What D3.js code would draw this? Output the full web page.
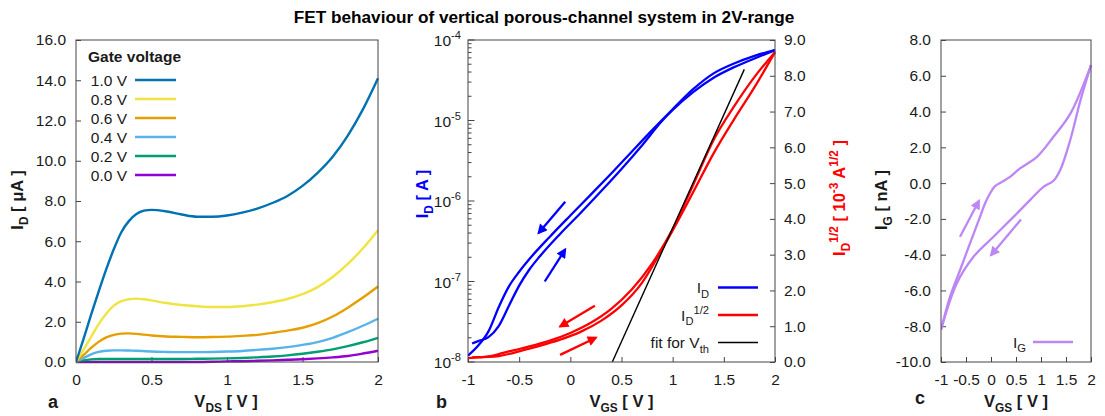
<!DOCTYPE html>
<html>
<head>
<meta charset="utf-8">
<script src="https://cdn.jsdelivr.net/npm/d3@7"></script>
<style>
  html, body { margin: 0; padding: 0; background: #fff; }
  svg { display: block; font-family: "Liberation Sans", Arial, Helvetica, sans-serif; }
</style>
</head>
<body>
<script>
// ---------- panel a: output characteristics ----------
const vdsA = [0,0.05,0.1,0.15,0.2,0.25,0.3,0.35,0.4,0.45,0.5,0.6,0.7,0.8,0.9,1.0,1.1,1.2,1.3,1.4,1.5,1.6,1.7,1.8,1.9,2.0];
const gateLabels = ["1.0 V","0.8 V","0.6 V","0.4 V","0.2 V","0.0 V"];
const gateColors = ["#0072b2","#f0e442","#e69f00","#56b4e9","#009e73","#9400d3"];
const idVg10 = [0,1.15,2.35,3.5,4.6,5.6,6.45,7.0,7.35,7.52,7.56,7.48,7.33,7.22,7.22,7.28,7.42,7.62,7.9,8.25,8.75,9.4,10.2,11.25,12.55,14.1];
const idVg08 = [0,0.62,1.25,1.88,2.4,2.8,3.02,3.12,3.15,3.12,3.06,2.93,2.83,2.77,2.73,2.73,2.77,2.85,2.97,3.13,3.37,3.72,4.22,4.87,5.65,6.55];
const idVg06 = [0,0.35,0.7,1.0,1.22,1.35,1.41,1.42,1.4,1.36,1.32,1.27,1.25,1.23,1.24,1.26,1.3,1.35,1.45,1.56,1.7,1.93,2.26,2.7,3.2,3.75];
const idVg04 = [0,0.2,0.38,0.5,0.56,0.58,0.58,0.57,0.56,0.54,0.52,0.5,0.49,0.49,0.5,0.52,0.55,0.6,0.66,0.74,0.85,0.99,1.2,1.48,1.8,2.15];
const idVg02 = [0,0.08,0.13,0.15,0.15,0.15,0.15,0.15,0.15,0.15,0.15,0.15,0.15,0.16,0.17,0.18,0.2,0.23,0.27,0.33,0.41,0.51,0.63,0.79,0.98,1.2];
const idVg00 = [0,0,0,0,0,0,0,0,0,0,0,0,0,0,0.01,0.03,0.04,0.06,0.08,0.11,0.14,0.18,0.23,0.3,0.42,0.56];
const ticksA_x = [0,0.5,1,1.5,2];
const ticksA_y = [0,2,4,6,8,10,12,14,16];

// ---------- panel b: transfer characteristics ----------
// sweep from +2 V down to -1 V (upper branch) and back up (lower branch), I_D in A
const vgsDown = [-1.0,-0.9,-0.8,-0.7,-0.6,-0.5,-0.4,-0.2,0,0.2,0.4,0.6,0.8,1.0,1.2,1.4,1.6,1.8,2.0];
const idDown  = [1.2e-8,1.6e-8,2.4e-8,4.8e-8,8.7e-8,1.32e-7,1.9e-7,3.6e-7,6.6e-7,1.2e-6,2.2e-6,4.1e-6,7.6e-6,1.38e-5,2.45e-5,3.85e-5,5.1e-5,6.35e-5,7.5e-5];
const vgsUp   = [-0.96,-0.9,-0.8,-0.7,-0.6,-0.5,-0.4,-0.3,-0.1,0.1,0.3,0.5,0.7,0.9,1.0,1.2,1.4,1.6,1.8,2.0];
const idUp    = [1.7e-8,1.82e-8,2.04e-8,2.8e-8,5.0e-8,8.9e-8,1.41e-7,2.04e-7,3.9e-7,7.1e-7,1.32e-6,2.5e-6,4.9e-6,1.0e-5,1.35e-5,2.25e-5,3.4e-5,4.6e-5,5.9e-5,7.5e-5];
// linear fit of sqrt(I_D) used for the threshold voltage (units 1e-3 A^1/2)
const fitV = [0.41, 1.70];
const fitSqrt = [0, 8.18];
const ticksB_x = [-1,-0.5,0,0.5,1,1.5,2];
const ticksB_log = [1e-8,1e-7,1e-6,1e-5,1e-4];
const ticksB_exp = ["-8","-7","-6","-5","-4"];
const ticksB_right = [0,1,2,3,4,5,6,7,8,9];

// ---------- panel c: gate leakage ----------
const vgsGup = [-1.0,-0.82,-0.62,-0.42,-0.22,-0.12,-0.02,0.08,0.22,0.38,0.58,0.92,1.25,1.59,2.0];
const igUp   = [-8.2,-6.36,-4.87,-3.37,-1.89,-1.14,-0.58,-0.17,0.07,0.35,0.82,1.47,2.59,3.9,6.6];
const vgsGdown = [2.0,1.79,1.585,1.385,1.25,1.05,0.78,0.45,0.05,-0.35,-0.685,-1.0];
const igDown   = [6.6,4.64,2.41,0.73,0.13,-0.21,-0.95,-1.89,-3.0,-4.12,-5.61,-8.2];
const ticksC_x = [-1,-0.5,0,0.5,1,1.5,2];
const ticksC_y = [-10,-8,-6,-4,-2,0,2,4,6,8];

const W = 1105, H = 416;
const FRAME = "#444", TXT = "#1a1a1a";
const PURPLE = "#bd86f5";
const svg = d3.select("body").append("svg").attr("width", W).attr("height", H);

const defs = svg.append("defs");
function arrowMarker(id, color) {
  defs.append("marker").attr("id", id)
    .attr("viewBox", "0 0 10 10").attr("refX", 8).attr("refY", 5)
    .attr("markerWidth", 5).attr("markerHeight", 4.4).attr("orient", "auto")
    .attr("markerUnits", "strokeWidth")
    .append("path").attr("d", "M0,0 L10,5 L0,10 z").attr("fill", color);
}
arrowMarker("ah-blue", "#0000ff");
arrowMarker("ah-red", "#ff0000");
arrowMarker("ah-purple", PURPLE);

// text with sub/superscripts: parts = [[text, mode]], mode "", "sub" or "sup"
function rich(sel, parts, size) {
  let prev = 0;
  parts.forEach(([t, m]) => {
    const off = m === "sub" ? size * 0.32 : m === "sup" ? -size * 0.42 : 0;
    sel.append("tspan").attr("dy", off - prev)
      .attr("font-size", m ? size * 0.72 : size).text(t);
    prev = off;
  });
  return sel;
}

function frame(x, y) {
  svg.append("rect")
    .attr("x", x.range()[0]).attr("y", y.range()[1])
    .attr("width", x.range()[1] - x.range()[0])
    .attr("height", y.range()[0] - y.range()[1])
    .attr("fill", "none").attr("stroke", FRAME).attr("stroke-width", 1);
}

function clip(id, x, y) {
  defs.append("clipPath").attr("id", id).append("rect")
    .attr("x", x.range()[0]).attr("y", y.range()[1] - 2)
    .attr("width", x.range()[1] - x.range()[0] + 2)
    .attr("height", y.range()[0] - y.range()[1] + 4);
}

const fmtX = d => String(d);
const fmtY = d => d.toFixed(1);
const TICK_FS = 15.5;

// inward-pointing ticks on the bottom and left/right sides
function styleAxis(g) {
  g.select(".domain").remove();
  g.selectAll(".tick line").attr("stroke", FRAME);
  g.selectAll(".tick text").attr("font-size", TICK_FS).attr("fill", TXT)
    .attr("font-family", "Liberation Sans, Arial, sans-serif");
  return g;
}
function xAxis(x, y, ticks, fmt) {
  return styleAxis(svg.append("g").attr("transform", `translate(0,${y.range()[0]})`)
    .call(d3.axisBottom(x).tickValues(ticks).tickFormat(fmt).tickSizeInner(-5).tickSizeOuter(0).tickPadding(12)));
}
function yAxisLeft(x, y, ticks, fmt) {
  return styleAxis(svg.append("g").attr("transform", `translate(${x.range()[0]},0)`)
    .call(d3.axisLeft(y).tickValues(ticks).tickFormat(fmt).tickSizeInner(-5).tickSizeOuter(0).tickPadding(10)));
}

const BOLD = 16.5;
function xTitle(cx, y, parts) {
  rich(svg.append("text").attr("x", cx).attr("y", y).attr("text-anchor", "middle")
    .attr("font-weight", "bold").attr("fill", TXT), parts, BOLD);
}
function yTitle(x, cy, parts, color) {
  rich(svg.append("text").attr("transform", `translate(${x},${cy}) rotate(-90)`)
    .attr("text-anchor", "middle").attr("font-weight", "bold").attr("fill", color || TXT), parts, BOLD);
}
function panelLetter(x, y, t) {
  svg.append("text").attr("x", x).attr("y", y).attr("font-weight", "bold")
    .attr("font-size", 18).attr("fill", TXT).text(t);
}

// ---------- title ----------
svg.append("text").attr("x", 544).attr("y", 23).attr("text-anchor", "middle")
  .attr("font-weight", "bold").attr("font-size", 17.2).attr("fill", "#000")
  .text("FET behaviour of vertical porous-channel system in 2V-range");

// ================= panel a =================
const xA = d3.scaleLinear().domain([0, 2]).range([76, 378]);
const yA = d3.scaleLinear().domain([0, 16]).range([362, 40]);
clip("clipA", xA, yA);
xAxis(xA, yA, ticksA_x, fmtX);
yAxisLeft(xA, yA, ticksA_y, fmtY);

const seriesA = [idVg10, idVg08, idVg06, idVg04, idVg02, idVg00];
const lineA = d3.line().x(d => xA(d[0])).y(d => yA(d[1])).curve(d3.curveMonotoneX);
const gA = svg.append("g").attr("clip-path", "url(#clipA)");
seriesA.slice().reverse().forEach((s, i) => {
  const k = seriesA.length - 1 - i;
  gA.append("path").datum(vdsA.map((v, j) => [v, s[j]]))
    .attr("d", lineA).attr("fill", "none")
    .attr("stroke", gateColors[k]).attr("stroke-width", 2.4);
});
frame(xA, yA);

// legend
svg.append("text").attr("x", 88).attr("y", 62).attr("font-weight", "bold")
  .attr("font-size", 15.5).attr("fill", TXT).text("Gate voltage");
gateLabels.forEach((lab, i) => {
  const yy = 80 + i * 19;
  svg.append("text").attr("x", 127).attr("y", yy + 5.5).attr("text-anchor", "end")
    .attr("font-size", TICK_FS).attr("fill", TXT).text(lab);
  svg.append("line").attr("x1", 135).attr("x2", 176).attr("y1", yy).attr("y2", yy)
    .attr("stroke", gateColors[i]).attr("stroke-width", 2.4);
});

xTitle(226, 407, [["V",""],["DS","sub"],[" [ V ]",""]]);
yTitle(23, 200, [["I",""],["D","sub"],[" [ \u03bcA ]",""]]);
panelLetter(48, 408, "a");

// ================= panel b =================
const xB = d3.scaleLinear().domain([-1, 2]).range([468, 775]);
const yB = d3.scaleLog().domain([1e-8, 1e-4]).range([362, 40]);
const yB2 = d3.scaleLinear().domain([0, 9]).range([362, 40]);
clip("clipB", xB, yB);
xAxis(xB, yB, ticksB_x, fmtX);

// left log axis: major + minor ticks, labels 10^n
const minorB = [];
for (let e = -8; e < -4; e++) for (let m = 2; m <= 9; m++) minorB.push(m * Math.pow(10, e));
const gBl = svg.append("g");
gBl.selectAll("line.minor").data(minorB).join("line")
  .attr("x1", xB.range()[0]).attr("x2", xB.range()[0] + 3.5)
  .attr("y1", d => yB(d)).attr("y2", d => yB(d)).attr("stroke", FRAME);
gBl.selectAll("line.major").data(ticksB_log).join("line")
  .attr("x1", xB.range()[0]).attr("x2", xB.range()[0] + 6.5)
  .attr("y1", d => yB(d)).attr("y2", d => yB(d)).attr("stroke", FRAME);
ticksB_log.forEach((d, i) => {
  const t = gBl.append("text").attr("x", 461).attr("y", yB(d) + 6)
    .attr("text-anchor", "end").attr("fill", TXT);
  rich(t, [["10",""],[ticksB_exp[i],"sup"]], TICK_FS);
});

// right linear axis
styleAxis(svg.append("g").attr("transform", `translate(${xB.range()[1]},0)`)
  .call(d3.axisRight(yB2).tickValues(ticksB_right).tickFormat(fmtY).tickSizeInner(-5).tickSizeOuter(0).tickPadding(9)));

const gB = svg.append("g").attr("clip-path", "url(#clipB)");
const lineLog = d3.line().x(d => xB(d[0])).y(d => yB(d[1])).curve(d3.curveMonotoneX);
const lineSq = d3.line().x(d => xB(d[0])).y(d => yB2(d[1])).curve(d3.curveMonotoneX);
const branches = [[vgsDown, idDown], [vgsUp, idUp]];
branches.forEach(([v, id]) => {
  gB.append("path").datum(v.map((x, j) => [x, Math.sqrt(id[j]) * 1e3]))
    .attr("d", lineSq).attr("fill", "none").attr("stroke", "#ff0000").attr("stroke-width", 2.3);
});
branches.forEach(([v, id]) => {
  gB.append("path").datum(v.map((x, j) => [x, id[j]]))
    .attr("d", lineLog).attr("fill", "none").attr("stroke", "#0000ff").attr("stroke-width", 2.3);
});
gB.append("path").datum(fitV.map((v, j) => [v, fitSqrt[j]]))
  .attr("d", d3.line().x(d => xB(d[0])).y(d => yB2(d[1])))
  .attr("fill", "none").attr("stroke", "#000").attr("stroke-width", 1.4);

// sweep-direction arrows (data coordinates)
const arrowsBlue = [[-0.05, 9.8e-7, -0.31, 4.0e-7], [-0.25, 1.0e-7, -0.05, 2.5e-7]];
const arrowsRed = [[0.24, 1.57, -0.1, 0.99], [-0.1, 0.2, 0.25, 0.68]];
arrowsBlue.forEach(a => svg.append("line")
  .attr("x1", xB(a[0])).attr("y1", yB(a[1])).attr("x2", xB(a[2])).attr("y2", yB(a[3]))
  .attr("stroke", "#0000ff").attr("stroke-width", 2.3).attr("marker-end", "url(#ah-blue)"));
arrowsRed.forEach(a => svg.append("line")
  .attr("x1", xB(a[0])).attr("y1", yB2(a[1])).attr("x2", xB(a[2])).attr("y2", yB2(a[3]))
  .attr("stroke", "#ff0000").attr("stroke-width", 2.3).attr("marker-end", "url(#ah-red)"));
frame(xB, yB);

// legend
const legB = [
  { parts: [["I",""],["D","sub"]], color: "#0000ff", w: 2.4 },
  { parts: [["I",""],["D","sub"],["1/2","sup"]], color: "#ff0000", w: 2.4 },
  { parts: [["fit for V",""],["th","sub"]], color: "#000", w: 1.4 }
];
legB.forEach((l, i) => {
  const yy = 287.5 + i * 27.5;
  rich(svg.append("text").attr("x", 709).attr("y", yy + 5.5).attr("text-anchor", "end").attr("fill", TXT),
    l.parts, TICK_FS);
  svg.append("line").attr("x1", 718).attr("x2", 758).attr("y1", yy).attr("y2", yy)
    .attr("stroke", l.color).attr("stroke-width", l.w);
});

xTitle(621.5, 407, [["V",""],["GS","sub"],[" [ V ]",""]]);
yTitle(428, 194, [["I",""],["D","sub"],[" [ A ]",""]], "#0000ff");
yTitle(845, 198, [["I",""],["D","sub"],["1/2","sup"],[" [ 10",""],["-3","sup"],[" A",""],["1/2","sup"],[" ]",""]], "#ff0000");
panelLetter(436, 408, "b");

// ================= panel c =================
const xC = d3.scaleLinear().domain([-1, 2]).range([941, 1091]);
const yC = d3.scaleLinear().domain([-10, 8]).range([362, 40]);
clip("clipC", xC, yC);
xAxis(xC, yC, ticksC_x, fmtX);
yAxisLeft(xC, yC, ticksC_y, fmtY);
const lineC = d3.line().x(d => xC(d[0])).y(d => yC(d[1])).curve(d3.curveCatmullRom);
const gC = svg.append("g").attr("clip-path", "url(#clipC)");
gC.append("path").datum(vgsGup.map((v, j) => [v, igUp[j]]))
  .attr("d", lineC).attr("fill", "none").attr("stroke", PURPLE).attr("stroke-width", 2.3);
gC.append("path").datum(vgsGdown.map((v, j) => [v, igDown[j]]))
  .attr("d", lineC).attr("fill", "none").attr("stroke", PURPLE).attr("stroke-width", 2.3);
const arrowsC = [[-0.62, -3.0, -0.24, -0.99], [0.6, -2.03, 0.0, -4.03]];
arrowsC.forEach(a => svg.append("line")
  .attr("x1", xC(a[0])).attr("y1", yC(a[1])).attr("x2", xC(a[2])).attr("y2", yC(a[3]))
  .attr("stroke", PURPLE).attr("stroke-width", 2.3).attr("marker-end", "url(#ah-purple)"));
frame(xC, yC);

rich(svg.append("text").attr("x", 1026).attr("y", 347.5).attr("text-anchor", "end").attr("fill", TXT),
  [["I",""],["G","sub"]], TICK_FS);
svg.append("line").attr("x1", 1033).attr("x2", 1073).attr("y1", 342).attr("y2", 342)
  .attr("stroke", PURPLE).attr("stroke-width", 2.4);

xTitle(1016, 407, [["V",""],["GS","sub"],[" [ V ]",""]]);
yTitle(887, 200, [["I",""],["G","sub"],[" [ nA ]",""]]);
panelLetter(915, 404, "c");
</script>
</body>
</html>
